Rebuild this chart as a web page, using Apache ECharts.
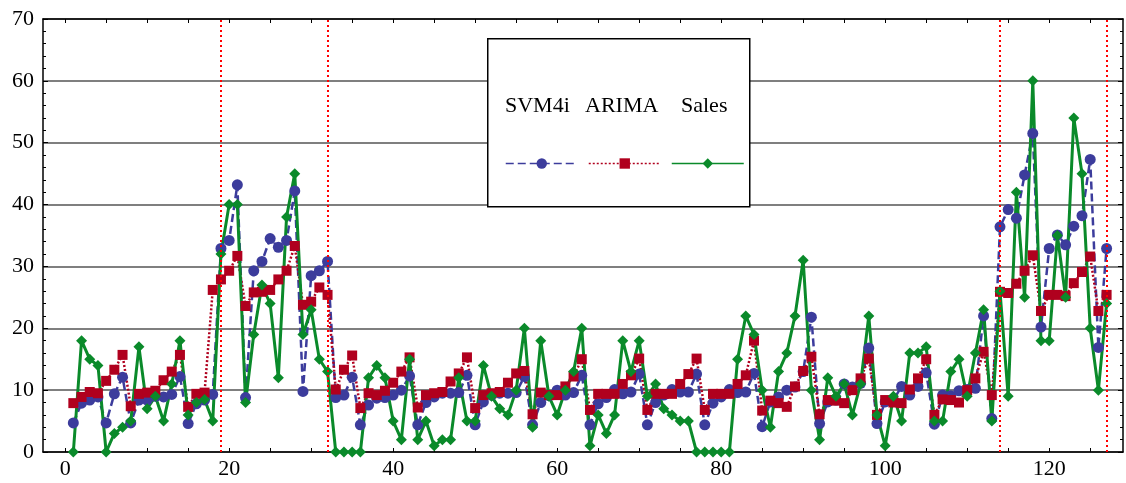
<!DOCTYPE html>
<html>
<head>
<meta charset="utf-8">
<script src="https://cdn.jsdelivr.net/npm/echarts@6/dist/echarts.min.js"></script>
<style>
html,body{margin:0;padding:0;background:#fff;}
#chart{width:1126px;height:483px;}
</style>
</head>
<body>
<div id="chart"></div>
<script>
// ---- data ----
const periods = Array.from({length: 127}, (_, i) => i + 1);
const sales = [0,18,15,14,0,3,4,5,17,7, 9,5,11,18,6,8,8.5,5,32,40, 40,8,19,27,24,12,38,45,19,23,
  15,13,0,0,0,0,12,14,12,5, 2,15,2,5,1,2,2,12,5,5, 14,9,7,6,10,20,4,18,9,6,
  10,13,20,1,6,3,6,18,13,18, 9,11,7,6,5,5,0,0,0,0, 0,15,22,19,10,4,13,16,22,31,
  10,2,12,9,11,6,11,22,6,1, 9,5,16,16,17,5,5,13,15,9, 16,23,5,26,9,42,25,60,18,18,
  35,25,54,45,20,10,24];
const svm4i = [4.7,7.9,8.4,8.9,4.7,9.4,12.1,4.7,8.4,8.4, 9,8.9,9.3,12.2,4.6,7.8,8.4,9.3,32.9,34.2,
  43.2,8.8,29.3,30.8,34.5,33.1,34.2,42.2,9.8,28.5, 29.3,30.8,8.8,9.2,12.1,4.4,7.6,8.7,8.8,9.2,
  10,12.3,4.4,8,8.9,9.5,9.5,9.6,12.4,4.4, 8.1,9.2,9.5,9.5,9.6,12.2,4.4,8,9.1,10,
  9.2,9.6,12.4,4.4,7.8,8.8,10.1,9.4,9.7,12.6, 4.4,8,9.2,10.1,9.7,9.7,12.6,4.4,7.9,8.9,
  10.1,9.6,9.7,12.7,4.1,8.1,8.9,10,10.5,13, 21.8,4.6,8.1,8.4,11,10.5,11.1,16.8,4.6,8.1,
  8.4,10.6,9.2,10.6,12.8,4.5,9.2,9.1,9.9,10.1, 10.3,22,5.4,36.4,39.2,37.8,44.8,51.5,20.2,32.9,
  35.1,33.5,36.5,38.2,47.3,16.9,32.9];
const arima = [7.9,8.9,9.7,9.5,11.5,13.3,15.7,7.4,9.4,9.6, 9.9,11.6,13,15.7,7.3,9.4,9.6,26.2,27.9,29.3,
  31.7,23.6,25.8,25.9,26.2,27.9,29.3,33.3,23.8,24.3, 26.6,25.4,10.1,13.3,15.6,7.1,9.5,9.2,9.9,11.2,
  13,15.3,7.2,9.2,9.5,9.7,11.4,12.7,15.3,7.1, 9.2,9.5,9.7,11.2,12.7,13.1,6.1,9.6,9.2,9.2,
  10.6,12.2,15,6.8,9.4,9.4,9.4,11,12.4,15.1, 6.8,9.4,9.4,9.4,11,12.6,15.1,6.8,9.4,9.4,
  9.4,11,12.4,18,6.7,8.3,7.9,7.3,10.6,13.1, 15.4,6.1,8.4,8.3,7.9,10,11.9,15.1,6,8.4,
  8,7.9,10.1,11.9,15,6,8.5,8.4,8,10, 11.9,16.2,9.2,25.9,25.7,27.2,29.3,31.8,22.8,25.4,
  25.4,25.2,27.3,29.1,31.6,22.8,25.4];
const breakPoints = [19, 32, 114, 127];
const xLabelValues = [0, 20, 40, 60, 80, 100, 120];
const xTickValues = [0,5,10,15,20,25,30,35,40,45,50,55,60,65,70,75,80,85,90,95,100,105,110,115,120,125];
const seriesNames = ['SVM4i', 'ARIMA', 'Sales'];

// ---- chart ----
const FONT = '"Liberation Serif", "Times New Roman", serif';
const BLUE = '#3c3c9c', RED = '#b0001e', GREEN = '#0a8a2a';
const chart = echarts.init(document.getElementById('chart'), null, {renderer: 'canvas'});
const pair = arr => periods.map((p, i) => [p, arr[i]]);

const baseX = {
  type: 'value', min: -2.7, max: 129,
  axisLine: {show: true, onZero: false, lineStyle: {color: '#000', width: 1.5}},
  splitLine: {show: false}
};
const baseY = {
  type: 'value', min: 0, max: 70, interval: 10,
  axisLine: {show: true, onZero: false, lineStyle: {color: '#000', width: 1.5}},
  minorTick: {show: true, splitNumber: 5, length: 3, lineStyle: {color: '#000', width: 1}}
};

chart.setOption({
  animation: false,
  backgroundColor: '#fff',
  grid: {left: 43, right: 3, top: 19, bottom: 31},
  xAxis: [
    Object.assign({}, baseX, {
      position: 'bottom',
      axisTick: {show: true, inside: true, length: 4, customValues: xTickValues, lineStyle: {color: '#000', width: 1}},
      axisLabel: {show: true, customValues: xLabelValues, fontFamily: FONT, fontSize: 22, color: '#000', margin: 6}
    }),
    Object.assign({}, baseX, {
      position: 'top',
      axisTick: {show: true, inside: true, length: 4, customValues: xTickValues, lineStyle: {color: '#000', width: 1}},
      axisLabel: {show: false}
    })
  ],
  yAxis: [
    Object.assign({}, baseY, {
      position: 'left',
      axisTick: {show: true, inside: true, length: 5, lineStyle: {color: '#000', width: 1}},
      axisLabel: {show: true, fontFamily: FONT, fontSize: 22, color: '#000', margin: 9},
      splitLine: {show: true, lineStyle: {color: '#555', width: 1.5}}
    }),
    Object.assign({}, baseY, {
      position: 'right',
      axisTick: {show: true, inside: true, length: 5, lineStyle: {color: '#000', width: 1}},
      axisLabel: {show: false},
      splitLine: {show: false}
    })
  ],
  legend: seriesNames.map((n, k) => ({
    data: [n], left: [500, 583, 666][k], top: 152,
    itemWidth: 72, itemHeight: 13, formatter: () => '',
    textStyle: {fontSize: 1}, z: 6,
    lineStyle: {width: 1.5}
  })),
  graphic: [
    {type: 'rect', left: 487, top: 38, z: 5, shape: {width: 262, height: 168},
     style: {fill: '#fff', stroke: '#000', lineWidth: 1.5}},
    {type: 'text', left: 505, top: 95, z: 7, style: {text: seriesNames[0], font: '22px ' + FONT, fill: '#000'}},
    {type: 'text', left: 585, top: 95, z: 7, style: {text: seriesNames[1], font: '22px ' + FONT, fill: '#000'}},
    {type: 'text', left: 681, top: 95, z: 7, style: {text: seriesNames[2], font: '22px ' + FONT, fill: '#000'}}
  ],
  series: [
    {
      name: seriesNames[0], type: 'line', data: pair(svm4i),
      symbol: 'circle', symbolSize: 11, color: BLUE,
      itemStyle: {color: BLUE},
      lineStyle: {color: BLUE, width: 2.5, type: [8, 4]},
      markLine: {
        silent: true, symbol: 'none', label: {show: false},
        lineStyle: {color: '#ff0000', width: 2, type: [2, 3]},
        data: breakPoints.map(v => ({xAxis: v}))
      }
    },
    {
      name: seriesNames[1], type: 'line', data: pair(arima),
      symbol: 'rect', symbolSize: 10, color: RED,
      itemStyle: {color: RED},
      lineStyle: {color: RED, width: 2.5, type: [2, 2]}
    },
    {
      name: seriesNames[2], type: 'line', data: pair(sales),
      symbol: 'diamond', symbolSize: 11, color: GREEN,
      itemStyle: {color: GREEN},
      lineStyle: {color: GREEN, width: 3, type: 'solid'}
    }
  ]
});
</script>
</body>
</html>
